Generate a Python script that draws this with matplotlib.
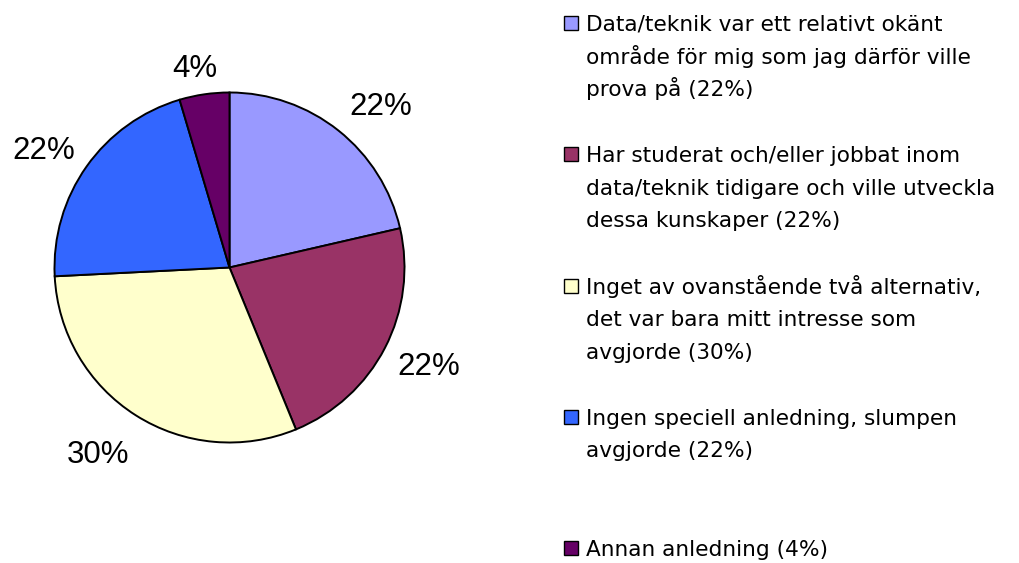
import matplotlib
matplotlib.use('Agg')
import matplotlib.pyplot as plt
from matplotlib.patches import Rectangle

plt.rcParams['font.family'] = ['Liberation Sans', 'DejaVu Sans']

# Data (slice sizes as drawn, labels as printed)
reasons = [
    ['Data/teknik var ett relativt okänt', 'område för mig som jag därför ville', 'prova på (22%)'],
    ['Har studerat och/eller jobbat inom', 'data/teknik tidigare och ville utveckla', 'dessa kunskaper (22%)'],
    ['Inget av ovanstående två alternativ,', 'det var bara mitt intresse som', 'avgjorde (30%)'],
    ['Ingen speciell anledning, slumpen', 'avgjorde (22%)'],
    ['Annan anledning (4%)'],
]
shares = [21.4, 22.4, 30.4, 21.2, 4.6]
pct_labels = ['22%', '22%', '30%', '22%', '4%']
colors = ['#9999FF', '#993366', '#FFFFCC', '#3366FF', '#660066']

# where the percentage labels sit (pie units, radius = 1)
label_xy = [(0.866, 0.917), (1.14, -0.568), (-0.751, -1.074), (-1.063, 0.666), (-0.2, 1.137)]

W, H = 1019, 563
fig = plt.figure(figsize=(W / 100, H / 100), dpi=100)

# pie: centre at (229.5, 267.5) px from top, radius 175 px
cx, cy, half = 229.5, H - 267.5, 245
ax = fig.add_axes([(cx - half) / W, (cy - half) / H, 2 * half / W, 2 * half / H])
ax.pie(shares, colors=colors, startangle=90, counterclock=False,
       wedgeprops=dict(edgecolor='black', linewidth=1.4))
ax.set_xlim(-1.4, 1.4)
ax.set_ylim(-1.4, 1.4)
ax.axis('off')

for txt, (x, y) in zip(pct_labels, label_xy):
    ax.text(x, y, txt, ha='center', va='center', fontsize=22.5)

# legend: entries evenly spaced, fixed line pitch
base0 = 31
step = 131.3
pitch = 32.5
for i, (lines, col) in enumerate(zip(reasons, colors)):
    b = base0 + i * step
    fig.patches.append(Rectangle((564 / W, 1 - (b - 1) / H), 14 / W, 14 / H,
                                 transform=fig.transFigure, facecolor=col,
                                 edgecolor='black', linewidth=1.0))
    for j, line in enumerate(lines):
        fig.text(586 / W, 1 - (b + j * pitch) / H, line, ha='left', va='baseline',
                 fontsize=15.6, family=['DejaVu Sans'])

plt.savefig('out.png', dpi=100)
